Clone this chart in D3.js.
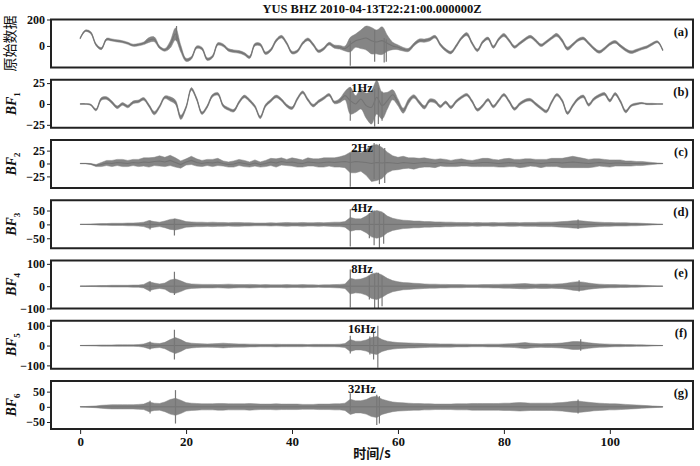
<!DOCTYPE html>
<html><head><meta charset="utf-8">
<script src="https://cdn.jsdelivr.net/npm/d3@7"></script>
<style>body{margin:0;background:#fff}svg{display:block}</style>
</head><body>
<svg id="chart" width="700" height="466"></svg>
<script>
// ---- data (1 s steps, t = 0..110 s) ----
const titleText = "YUS BHZ 2010-04-13T22:21:00.000000Z";
const xTicks = [0, 20, 40, 60, 80, 100];
const panelTags = ["(a)", "(b)", "(c)", "(d)", "(e)", "(f)", "(g)"];
const freqLabels = ["", "1Hz", "2Hz", "4Hz", "8Hz", "16Hz", "32Hz"];
const yTicksA = [0, 200];
const yTicksB = [-25, 0, 25];
const yTicksC = [-25, 0, 25];
const yTicksD = [-50, 0, 50];
const yTicksE = [-100, 0, 100];
const yTicksF = [-100, 0, 100];
const yTicksG = [-50, 0, 50];

const rawCenter = [57,115,100,10,-20,50,45,38,32,20,5,10,20,45,50,-10,-30,10,90,-20,-105,-90,-10,-20,-100,-80,15,5,-30,-40,-45,-60,-85,10,10,-55,-30,40,70,20,-50,-40,20,50,10,-40,-20,18,-5,-10,-20,10,40,50,60,40,30,40,20,0,-10,-25,-30,10,40,40,50,70,10,-30,-50,0,60,89,20,-33,30,57,-8,50,83,40,-8,20,50,70,40,5,30,60,83,40,-20,10,45,57,20,-20,-45,-20,15,31,0,-30,-47,-35,-20,-8,15,31,-33];
const rawWidth = [5,6,8,8,8,8,8,8,8,8,8,9,10,18,18,10,10,26,45,26,12,10,10,10,10,10,10,10,10,10,10,10,10,10,10,10,10,10,10,10,10,10,10,10,10,10,10,10,12,14,18,55,50,70,90,100,90,105,60,28,18,14,12,12,12,12,12,10,10,10,10,10,10,12,10,10,10,10,10,10,12,10,10,10,10,10,10,10,10,10,12,12,12,10,10,10,10,10,10,10,10,10,10,10,10,10,9,9,9,7,5];
const bf1Center = [0,0,-1,-7,6,7,2,-4,0,-3,2,3,6,-2,-11,-3,8,6,2,-16,-4,18,6,-11,-3,10,12,-2,-6,-8,2,9,4,-3,-16,-2,4,9,5,-2,-5,6,14,5,-2,3,7,11,2,4,10,4,0,6,-2,-4,8,-2,4,11,2,-8,3,9,2,-4,4,3,-3,2,-4,3,8,11,3,-7,-2,5,-3,4,11,3,-6,0,4,5,0,-5,-9,2,11,4,-11,-2,6,9,-1,6,10,12,4,12,3,-9,-2,0,1,0,0,0,0];
const bf1Width = [0.4,0.4,0.8,1.2,1.6,1.6,1.6,1.6,1.6,1.6,1.6,1.6,1.6,1.6,2,1.6,1.6,2.5,2.5,2.5,1.6,1.6,1.6,1.6,1.6,1.6,1.6,1.6,1.6,1.6,1.6,1.6,1.6,1.6,1.6,1.6,1.6,1.6,1.6,1.6,1.6,1.6,1.6,1.6,1.6,1.6,1.6,1.6,1.6,2.5,5,16,10,12,15,20,20,16,10,6,4,3,3,2,2,2,2,2,1.6,1.6,1.6,1.6,1.6,1.6,1.6,1.6,1.6,1.6,1.6,1.6,1.6,1.6,1.6,1.6,1.6,1.6,1.6,1.6,1.6,1.6,1.6,1.6,1.6,1.6,1.6,1.6,1.6,1.6,1.6,1.6,1.6,1.6,1.6,1.6,1.2,1.2,0.8,0.8,0.8,0.4,0.4];
const bf2Center = [0,0,-1,-4,-2,1,0,2,1,0,2,1,3,2,4,5,3,6,2,-2,3,6,2,0,2,1,3,0,-2,-1,2,0,-2,1,-2,0,3,1,4,2,3,1,0,3,2,1,2,3,2,3,4,2,4,3,2,0,2,1,2,1,0,2,1,0,1,2,1,0,2,1,0,1,2,1,0,1,2,2,1,0,1,2,1,0,1,2,1,0,1,2,2,1,2,3,2,1,0,1,2,1,0,1,1,0,0,0,0,0,0,0,0];
const bf2Width = [0.5,0.5,1,2,4,5,6,6,7,6,6,7,8,9,8,10,9,10,9,7,6,8,7,6,6,7,7,5,5,6,6,6,5,6,5,6,7,8,7,6,8,8,7,8,7,8,9,8,9,10,12,20,22,18,25,35,35,30,20,14,12,12,10,11,9,9,8,8,7,7,6,7,7,6,6,7,8,8,7,7,8,8,7,8,8,7,7,8,7,8,8,9,10,11,10,9,8,8,7,7,7,6,6,5,5,4,4,3,2,1,0.5];
const bf3Width = [0.5,0.5,1,2,3,3,4,4,4,5,5,6,8,14,10,8,12,18,20,16,10,9,8,8,7,8,7,7,6,7,7,6,6,5,5,5,6,5,6,7,6,6,7,6,6,7,6,7,8,8,10,25,20,20,30,45,50,45,30,22,18,15,14,12,12,10,10,9,9,8,8,7,7,7,6,7,6,6,7,6,6,7,7,6,7,7,7,8,8,8,9,10,11,13,14,12,10,9,8,7,7,6,6,6,5,5,4,3,2,1,0.5];
const bf4Width = [0.5,1,1.5,2,3,3,4,4,4,4,5,5,8,20,14,10,14,28,32,24,14,10,9,8,8,8,7,8,9,8,7,7,8,7,6,7,6,6,6,7,6,6,7,6,6,5,6,6,7,8,10,35,30,32,40,55,60,50,35,25,20,16,15,13,12,10,9,9,8,8,7,7,7,6,6,6,7,7,8,8,9,9,10,11,12,10,9,10,10,9,10,11,14,18,20,18,14,11,9,8,7,7,6,6,5,5,4,3,2,1,0.5];
const bf5Width = [0.5,1,1.5,2,3,3,3,4,4,4,4,5,8,16,12,10,16,30,40,30,16,12,10,9,8,9,10,12,10,9,8,8,7,7,6,6,6,7,6,6,6,6,6,5,6,6,6,6,6,7,10,30,22,22,28,40,45,30,22,18,15,14,13,12,11,10,9,9,8,8,8,7,7,7,6,6,6,7,7,7,8,9,10,13,15,12,10,9,10,10,11,13,16,20,20,18,14,11,9,8,7,6,6,5,5,4,4,3,2,1,0.5];
const bf6Width = [0.5,1,2,3,5,6,7,7,7,7,7,8,9,16,12,11,16,24,28,22,14,12,11,10,10,10,11,11,10,10,10,10,11,10,9,9,9,10,9,9,9,9,8,8,8,9,9,9,10,10,12,25,20,20,24,32,35,25,20,16,14,13,12,11,11,10,10,9,9,9,9,10,10,10,11,11,11,11,11,11,12,12,13,14,13,12,12,12,12,12,13,14,16,18,19,17,15,13,12,11,10,10,9,8,7,6,5,4,3,2,1];
// isolated spikes: [time s, min, max]
const rawSpikes = [[18.2,40,150],[51,-150,40],[55.6,-120,120],[57.4,-125,60],[57.8,-120,50]];
const bf1Spikes = [[51,-20,20],[55.6,-27,18],[56.3,-24,20],[57,-20,15]];
const bf2Spikes = [[51,-45,20],[55.5,-30,40],[56.5,-40,38],[57.5,-38,30]];
const bf3Spikes = [[13.2,-18,14],[17.8,-40,20],[51,-80,55],[54.6,-50,40],[55.5,-75,50],[56.5,-85,45],[57.3,-70,40],[94,-16,18]];
const bf4Spikes = [[13.2,-25,22],[17.8,-40,65],[51,-95,75],[54.6,-60,45],[55.6,-100,55],[56.3,-105,60],[57,-90,45],[94.2,-24,26]];
const bf5Spikes = [[13.2,-20,20],[17.8,-70,80],[51,-40,50],[54.7,-45,45],[55.4,-70,70],[56.2,-112,100],[94.5,-26,32]];
const bf6Spikes = [[13.2,-22,20],[18,-55,55],[51,-15,45],[56,-60,40],[56.5,-55,35],[94,-22,24]];

const timeAxis = d3.range(0, 111);

const panels = [
  {center: rawCenter, width: rawWidth, spikes: rawSpikes, dom: [-163, 200], ticks: yTicksA, line: true},
  {center: bf1Center, width: bf1Width, spikes: bf1Spikes, dom: [-28.5, 29], ticks: yTicksB, line: true},
  {center: bf2Center, width: bf2Width, spikes: bf2Spikes, dom: [-47.5, 45.6], ticks: yTicksC, line: true},
  {center: null, width: bf3Width, spikes: bf3Spikes, dom: [-86, 87], ticks: yTicksD, line: false},
  {center: null, width: bf4Width, spikes: bf4Spikes, dom: [-100, 115], ticks: yTicksE, line: false},
  {center: null, width: bf5Width, spikes: bf5Spikes, dom: [-117, 125], ticks: yTicksF, line: false},
  {center: null, width: bf6Width, spikes: bf6Spikes, dom: [-73, 85], ticks: yTicksG, line: false}
];

// ---- drawing ----
const svg = d3.select("#chart");
const L = 51, R = 693, H = 48;
const x = d3.scaleLinear().domain([-5.5, 115.7]).range([L, R]);
const serif = "'Liberation Serif','DejaVu Serif',serif";
const traceColor = "#858585";

svg.append("text").attr("x", 372).attr("y", 13).attr("text-anchor", "middle")
  .attr("font-family", serif).attr("font-weight", "bold").attr("font-size", 12.5)
  .attr("fill", "#111").text(titleText);

panels.forEach((p, i) => {
  const top = 19.5 + i * 60.25;
  const y = d3.scaleLinear().domain(p.dom).range([top + H, top]);
  const cid = "clip" + i;
  svg.append("clipPath").attr("id", cid).append("rect")
    .attr("x", L).attr("y", top).attr("width", R - L).attr("height", H);
  const g = svg.append("g").attr("clip-path", `url(#${cid})`);
  const c = j => (p.center ? p.center[j] : 0);
  const curve = i < 2 ? d3.curveCatmullRom.alpha(0.5) : d3.curveLinear;
  const area = d3.area()
    .x((d, j) => x(timeAxis[j]))
    .y0((d, j) => y(c(j) - p.width[j]))
    .y1((d, j) => y(c(j) + p.width[j]))
    .curve(curve);
  g.append("path").datum(p.width).attr("d", area).attr("fill", traceColor)
    .attr("stroke", traceColor).attr("stroke-width", 0.5);
  if (p.line) {
    const line = d3.line().x((d, j) => x(timeAxis[j])).y((d, j) => y(c(j))).curve(curve);
    g.append("path").datum(p.width).attr("d", line).attr("fill", "none")
      .attr("stroke", "#747474").attr("stroke-width", 1.1);
  } else {
    g.append("line").attr("x1", x(0)).attr("x2", x(110)).attr("y1", y(0)).attr("y2", y(0))
      .attr("stroke", "#747474").attr("stroke-width", 1);
  }
  g.selectAll("line.spike").data(p.spikes).join("line").attr("class", "spike")
    .attr("x1", d => x(d[0])).attr("x2", d => x(d[0]))
    .attr("y1", d => y(d[1])).attr("y2", d => y(d[2]))
    .attr("stroke", "#777").attr("stroke-width", 1.2);

  // frame
  svg.append("rect").attr("x", L).attr("y", top).attr("width", R - L).attr("height", H)
    .attr("fill", "none").attr("stroke", "#222").attr("stroke-width", 2);

  // y axis
  const ax = svg.append("g").attr("transform", `translate(${L},0)`)
    .call(d3.axisLeft(y).tickValues(p.ticks).tickSize(4).tickPadding(2).tickFormat(d3.format("d")));
  ax.select(".domain").remove();
  ax.selectAll("line").attr("stroke", "#222");
  ax.selectAll("text").attr("font-family", serif).attr("font-weight", "bold")
    .attr("font-size", 12).attr("fill", "#111");

  // tags
  svg.append("text").attr("x", 681).attr("y", top + 16).attr("text-anchor", "middle")
    .attr("font-family", serif).attr("font-weight", "bold").attr("font-size", 12.5)
    .attr("fill", "#111").text(panelTags[i]);
  if (freqLabels[i]) {
    svg.append("text").attr("x", 362).attr("y", top + 12).attr("text-anchor", "middle")
      .attr("font-family", serif).attr("font-weight", "bold").attr("font-size", 12.5)
      .attr("fill", "#111").text(freqLabels[i]);
  }

  // y labels
  const cy = top + H / 2;
  if (i === 0) {
    svg.append("text").attr("transform", `translate(15,${cy}) rotate(-90)`)
      .attr("text-anchor", "middle").attr("font-family", "'Noto Sans CJK SC',sans-serif")
      .attr("font-size", 14).attr("fill", "#111").text("原始数据");
  } else {
    const t = svg.append("text").attr("transform", `translate(16,${cy}) rotate(-90)`)
      .attr("text-anchor", "middle").attr("font-family", serif).attr("font-weight", "bold")
      .attr("font-style", "italic").attr("font-size", 14).attr("fill", "#111");
    t.append("tspan").text("BF");
    t.append("tspan").attr("font-size", 9).attr("font-style", "normal").attr("dy", 4).text(String(i));
  }

  if (i === panels.length - 1) {
    const xa = svg.append("g").attr("transform", `translate(0,${top + H})`)
      .call(d3.axisBottom(x).tickValues(xTicks).tickSize(5).tickPadding(3).tickFormat(d3.format("d")));
    xa.select(".domain").remove();
    xa.selectAll("line").attr("stroke", "#222");
    xa.selectAll("text").attr("font-family", serif).attr("font-weight", "bold")
      .attr("font-size", 13).attr("fill", "#111");
  }
});

svg.append("text").attr("x", 372).attr("y", 458).attr("text-anchor", "middle")
  .attr("font-family", "'Noto Sans CJK SC',sans-serif").attr("font-weight", "bold")
  .attr("font-size", 13).attr("fill", "#111").text("时间/s");
</script>
</body></html>
